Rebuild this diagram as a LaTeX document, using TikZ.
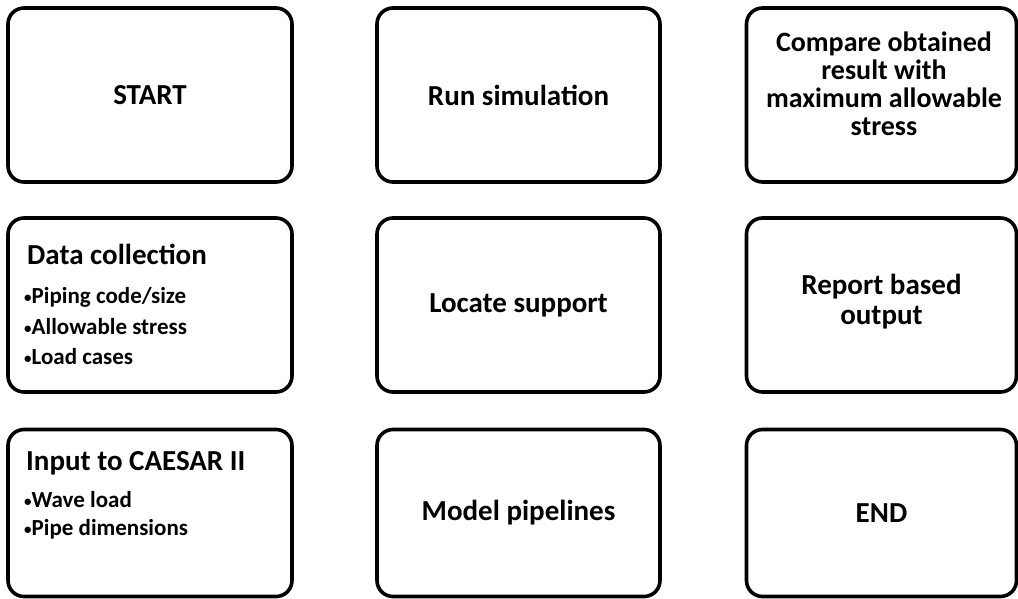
\documentclass[tikz,border=0pt]{standalone}
\usepackage{fontspec}
\setmainfont{Carlito}
\begin{document}
\begin{tikzpicture}[x=1pt,y=1pt,
  box/.style={draw=black, line width=3.6pt, rounded corners=16pt, fill=white, inner sep=0pt},
  boxA/.style={box, minimum width=284pt, minimum height=174pt},
  boxB/.style={box, minimum width=283pt, minimum height=174pt},
  boxC/.style={box, minimum width=270pt, minimum height=174pt},
  big/.style={font=\fontsize{29}{28}\selectfont\bfseries, align=center, inner sep=0pt},
  small/.style={font=\fontsize{23}{24}\selectfont\bfseries, anchor=west, inner sep=0pt}]
\newcommand{\bul}{{\fontsize{15}{15}\selectfont\raisebox{1pt}{•}}}
\useasboundingbox (0,0) rectangle (1018,-599);
% row 1
\node[boxA, big] (start) at (150,-95) {START};
\node[boxB, big] (run) at (518.5,-95) {Run simulation};
\node[boxC] (cmp) at (881.5,-95) {};
\node[big, font=\fontsize{28}{28}\selectfont\bfseries] (cmpt) at (884,-84) {Compare obtained\\result with\\maximum allowable\\stress};
% row 2
\node[boxA] (data) at (150,-305) {};
\node[big, anchor=west] (datat) at (27,-254) {Data collection};
\node[small] (d1) at (24,-297) {\bul Piping code/size};
\node[small] (d2) at (24,-327) {\bul Allowable stress};
\node[small] (d3) at (24,-357) {\bul Load cases};
\node[boxB, big] (loc) at (518.5,-305) {Locate support};
\node[boxC] (rep) at (881.5,-305) {};
\node[big] (rept) at (881.5,-302) {Report based\\[2pt]output};
% row 3
\node[boxA, minimum height=167pt] (inp) at (150,-513) {};
\node[big, anchor=west] (inpt) at (26,-463) {Input to CAESAR II};
\node[small] (i1) at (24,-500) {\bul Wave load};
\node[small] (i2) at (24,-529) {\bul Pipe dimensions};
\node[boxB, big, minimum height=167pt] (mod) at (518.5,-513) {Model pipelines};
\node[boxC, big, minimum height=167pt] (fin) at (881.5,-513) {END};
\end{tikzpicture}
\end{document}
